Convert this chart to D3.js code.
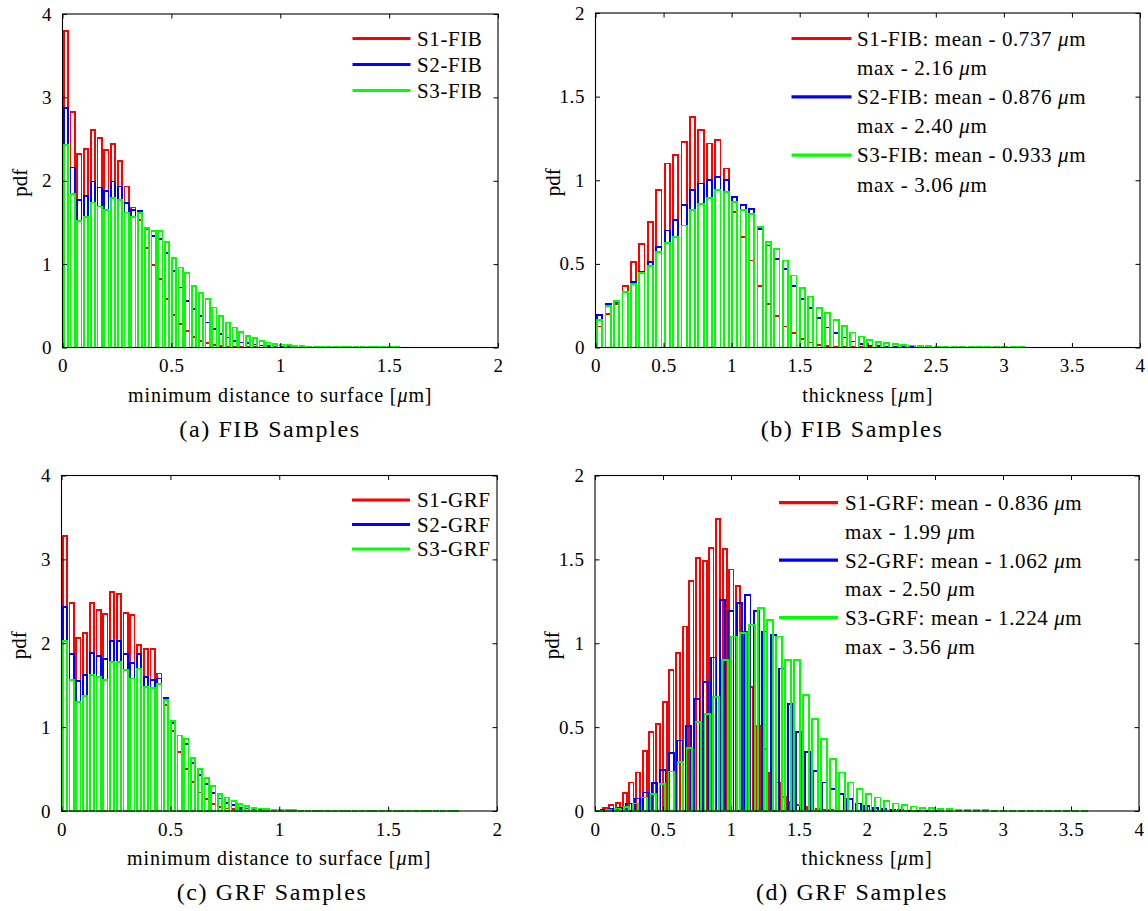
<!DOCTYPE html>
<html><head><meta charset="utf-8">
<script src="https://cdn.jsdelivr.net/npm/d3@7"></script>
<style>
body{margin:0;background:#fff}
svg{display:block}
text{font-family:"Liberation Serif","Times New Roman",serif;fill:#000}
</style>
</head><body>
<svg id="chart" width="1148" height="911"></svg>
<script>
// ---------------- data ----------------
// (a) FIB minimum distance to surface, bins of 0.031 from 0
const aBin = [0, 0.031];
const aS1 = [3.80,2.82,2.32,2.38,2.61,2.51,2.37,2.44,2.24,1.93,1.68,1.53,1.19,0.99,0.82,0.58,0.39,0.28,0.20,0.13,0.08,0.05,0.03,0.02,0.012,0.008,0.005,0.003,0.002,0.001];
const aS2 = [2.87,2.16,1.77,1.82,1.99,1.92,1.88,1.99,1.93,1.73,1.65,1.64,1.42,1.34,1.30,1.13,0.92,0.72,0.56,0.46,0.38,0.30,0.22,0.16,0.12,0.08,0.06,0.05,0.035,0.025,0.018,0.012,0.008,0.005,0.003,0.002,0.001];
const aS3 = [2.43,1.84,1.52,1.57,1.74,1.69,1.65,1.79,1.77,1.62,1.57,1.61,1.43,1.40,1.40,1.27,1.07,0.96,0.89,0.74,0.65,0.58,0.48,0.38,0.30,0.24,0.19,0.14,0.11,0.08,0.06,0.045,0.035,0.027,0.02,0.016,0.013,0.011,0.009,0.008,0.007,0.006,0.005,0.004,0.004,0.003,0.003,0.002,0.002,0.002,0.001];
// (b) FIB thickness, bins of 0.062 from 0
const bBin = [0, 0.062];
const bS1 = [0.126,0.20,0.26,0.37,0.51,0.62,0.75,0.94,1.10,1.15,1.23,1.38,1.30,1.22,1.24,1.07,0.81,0.66,0.52,0.37,0.26,0.19,0.126,0.085,0.05,0.03,0.016,0.01,0.006,0.004,0.003,0.002,0.001,0.001,0.001];
const bS2 = [0.194,0.26,0.274,0.33,0.39,0.45,0.51,0.60,0.70,0.76,0.85,0.94,0.98,1.00,1.02,1.00,0.90,0.85,0.83,0.71,0.61,0.53,0.47,0.37,0.29,0.235,0.175,0.12,0.085,0.06,0.036,0.02,0.012,0.008,0.005,0.003,0.002,0.001,0.001];
const bS3 = [0.164,0.248,0.28,0.334,0.38,0.445,0.487,0.573,0.627,0.66,0.73,0.82,0.86,0.895,0.94,0.93,0.87,0.82,0.80,0.72,0.63,0.59,0.52,0.43,0.355,0.305,0.235,0.205,0.165,0.13,0.09,0.066,0.045,0.035,0.025,0.02,0.015,0.012,0.01,0.008,0.006,0.005,0.004,0.003,0.002,0.002,0.001,0.001,0.001,0.001,0.001];
// (c) GRF minimum distance to surface, bins of 0.031 from 0
const cBin = [0, 0.031];
const cS1 = [3.28,2.48,2.06,2.12,2.48,2.40,2.35,2.61,2.59,2.36,2.34,1.98,1.93,1.93,1.64,1.26,0.95,0.70,0.50,0.35,0.22,0.14,0.08,0.05,0.03,0.02,0.01,0.005,0.002];
const cS2 = [2.43,1.87,1.55,1.62,1.88,1.85,1.81,2.03,2.03,1.87,1.76,1.87,1.60,1.56,1.58,1.35,1.05,0.90,0.80,0.57,0.43,0.32,0.21,0.15,0.10,0.07,0.04,0.03,0.02,0.01,0.006,0.003,0.002,0.001];
const cS3 = [2.03,1.56,1.30,1.37,1.62,1.60,1.56,1.78,1.78,1.68,1.58,1.70,1.48,1.47,1.51,1.32,1.07,0.90,0.86,0.63,0.50,0.39,0.30,0.20,0.16,0.12,0.08,0.06,0.04,0.03,0.02,0.015,0.012,0.01,0.008,0.006,0.005,0.004,0.003,0.003,0.002,0.002,0.002,0.001,0.001,0.001,0.001,0.001,0.001,0.001,0.001,0.001,0.001,0.001,0.001,0.001,0.001,0.001,0.001];
// (d) GRF thickness
const dBin1 = [0.047, 0.049];
const dBin2 = [0.03, 0.0625];
const dBin3 = [0, 0.066];
const dS1 = [0.016,0.036,0.05,0.105,0.17,0.23,0.36,0.47,0.52,0.65,0.84,0.94,1.10,1.37,1.51,1.49,1.57,1.74,1.56,1.44,1.34,1.07,0.74,0.51,0.37,0.23,0.17,0.085,0.055,0.035,0.025,0.015,0.01,0.006,0.004,0.003,0.002,0.001,0.001];
const dS2 = [0.005,0.01,0.02,0.045,0.075,0.11,0.165,0.245,0.345,0.42,0.505,0.67,0.77,0.915,1.26,1.19,1.24,1.29,1.19,1.07,1.05,0.85,0.64,0.47,0.35,0.24,0.17,0.13,0.10,0.07,0.045,0.03,0.02,0.012,0.008,0.005,0.003,0.002,0.001,0.001];
const dS3 = [0.003,0.008,0.015,0.025,0.045,0.08,0.10,0.16,0.235,0.29,0.375,0.53,0.58,0.68,0.90,1.04,1.06,1.11,1.21,1.14,1.04,0.90,0.90,0.69,0.55,0.43,0.31,0.23,0.17,0.13,0.10,0.08,0.06,0.045,0.035,0.027,0.02,0.016,0.012,0.01,0.008,0.006,0.005,0.004,0.003,0.003,0.002,0.002,0.002,0.001,0.001,0.001,0.001,0.001,0.001];

const xTicksDist = [0, 0.5, 1, 1.5, 2];
const xTicksThick = [0, 0.5, 1, 1.5, 2, 2.5, 3, 3.5, 4];
const yTicksDist = [0, 1, 2, 3, 4];
const yTicksThick = [0, 0.5, 1, 1.5, 2];

const legA = ["S1-FIB", "S2-FIB", "S3-FIB"];
const legC = ["S1-GRF", "S2-GRF", "S3-GRF"];
const legB = [["S1-FIB: mean - 0.737 ", "max - 2.16 "], ["S2-FIB: mean - 0.876 ", "max - 2.40 "], ["S3-FIB: mean - 0.933 ", "max - 3.06 "]];
const legD = [["S1-GRF: mean - 0.836 ", "max - 1.99 "], ["S2-GRF: mean - 1.062 ", "max - 2.50 "], ["S3-GRF: mean - 1.224 ", "max - 3.56 "]];
const colors = ["#ff0000", "#0000ff", "#00ff00"];

// ---------------- drawing ----------------
const svg = d3.select("#chart");

function addMu(sel, prefix, suffix) {
  sel.append("tspan").text(prefix);
  sel.append("tspan").attr("font-style", "italic").text("\u03bc");
  sel.append("tspan").text("m" + (suffix || ""));
}

function panel(cfg) {
  const x = d3.scaleLinear().domain(cfg.xd).range([cfg.l, cfg.r]);
  const y = d3.scaleLinear().domain(cfg.yd).range([cfg.b, cfg.t]);
  const g = svg.append("g");

  // bars: outline only, drawn S1, S2, S3 in order
  const frac = 0.62;
  cfg.series.forEach((s, k) => {
    const [start, w] = s.bin;
    g.append("g").attr("shape-rendering", "crispEdges")
      .selectAll("rect").data(s.vals).join("rect")
      .attr("x", (v, i) => x(start + (i + (1 - frac) / 2) * w))
      .attr("width", x(frac * w) - x(0))
      .attr("y", v => y(v))
      .attr("height", v => y(0) - y(v))
      .attr("fill", "none")
      .attr("stroke", colors[k])
      .attr("stroke-width", 1.8);
  });

  if (cfg.cover) {
    g.append("rect").attr("x", cfg.cover[0]).attr("y", cfg.cover[1])
      .attr("width", cfg.cover[2]).attr("height", cfg.cover[3]).attr("fill", "#fff");
  }

  // frame
  g.append("rect").attr("x", cfg.l).attr("y", cfg.t).attr("width", cfg.r - cfg.l).attr("height", cfg.b - cfg.t)
    .attr("fill", "none").attr("stroke", "#000").attr("stroke-width", 1.1);

  const tl = 4.5;
  const fmt = d => String(d);
  const ax = g.append("g").attr("transform", `translate(0,${cfg.b})`)
    .call(d3.axisBottom(x).tickValues(cfg.xt).tickFormat(fmt).tickSizeInner(-tl).tickSizeOuter(0).tickPadding(tl + 7));
  const axT = g.append("g").attr("transform", `translate(0,${cfg.t})`)
    .call(d3.axisTop(x).tickValues(cfg.xt).tickFormat("").tickSizeInner(-tl).tickSizeOuter(0));
  const ay = g.append("g").attr("transform", `translate(${cfg.l},0)`)
    .call(d3.axisLeft(y).tickValues(cfg.yt).tickFormat(fmt).tickSizeInner(-tl).tickSizeOuter(0).tickPadding(tl + 6));
  const ayR = g.append("g").attr("transform", `translate(${cfg.r},0)`)
    .call(d3.axisRight(y).tickValues(cfg.yt).tickFormat("").tickSizeInner(-tl).tickSizeOuter(0));
  [ax, axT, ay, ayR].forEach(a => {
    a.select(".domain").remove();
    a.attr("font-family", null);
    a.selectAll("line").attr("stroke", "#000").attr("stroke-width", 1);
    a.selectAll("text").attr("font-size", 19).attr("letter-spacing", 0.6).attr("fill", "#000");
  });

  // axis labels
  g.append("text").attr("x", (cfg.l + cfg.r) / 2).attr("y", cfg.b + 54).attr("text-anchor", "middle")
    .attr("font-size", 20).attr("letter-spacing", 0.9).call(s => addMu(s, cfg.xlabel, "]"));
  g.append("text").attr("transform", `translate(${cfg.l - 36},${(cfg.t + cfg.b) / 2 + 2}) rotate(-90)`)
    .attr("text-anchor", "middle").attr("font-size", 21).text("pdf");
  g.append("text").attr("x", cfg.capX).attr("y", cfg.b + 89).attr("text-anchor", "middle")
    .attr("font-size", 24).attr("letter-spacing", 1.6).text(cfg.caption);

  // legend
  const L = cfg.leg;
  L.items.forEach((it, k) => {
    const yy = L.y0 + k * L.dy;
    g.append("line").attr("x1", L.x1).attr("x2", L.x2).attr("y1", yy).attr("y2", yy)
      .attr("stroke", colors[k]).attr("stroke-width", 3.2);
    const t = (yv) => g.append("text").attr("x", L.tx).attr("y", yv).attr("dy", "0.35em")
      .attr("font-size", 21).attr("letter-spacing", 0.6);
    if (Array.isArray(it)) {
      t(yy).call(s => addMu(s, it[0]));
      t(yy + L.dy / 2).call(s => addMu(s, it[1]));
    } else {
      t(yy).text(it);
    }
  });
}

panel({l: 62.5, r: 498, t: 14, b: 347.5, xd: [0, 2], yd: [0, 4], xt: xTicksDist, yt: yTicksDist,
  series: [{bin: aBin, vals: aS1}, {bin: aBin, vals: aS2}, {bin: aBin, vals: aS3}],
  xlabel: "minimum distance to surface [", caption: "(a) FIB Samples", capX: 270,
  leg: {items: legA, x1: 352.5, x2: 410.5, tx: 417, y0: 38.5, dy: 26}});

panel({l: 595.5, r: 1140, t: 13, b: 347.5, xd: [0, 4], yd: [0, 2], xt: xTicksThick, yt: yTicksThick,
  series: [{bin: bBin, vals: bS1}, {bin: bBin, vals: bS2}, {bin: bBin, vals: bS3}],
  xlabel: "thickness [", caption: "(b) FIB Samples", capX: 852,
  leg: {items: legB, x1: 791.5, x2: 851.5, tx: 857, y0: 38.5, dy: 58.3}});

panel({l: 61.5, r: 497, t: 475.5, b: 811, xd: [0, 2], yd: [0, 4], xt: xTicksDist, yt: yTicksDist,
  series: [{bin: cBin, vals: cS1}, {bin: cBin, vals: cS2}, {bin: cBin, vals: cS3}],
  xlabel: "minimum distance to surface [", caption: "(c) GRF Samples", capX: 272,
  leg: {items: legC, x1: 352, x2: 410, tx: 417, y0: 500, dy: 24.5}});

panel({l: 595, r: 1139, t: 475.5, b: 811, xd: [0, 4], yd: [0, 2], xt: xTicksThick, yt: yTicksThick,
  series: [{bin: dBin1, vals: dS1}, {bin: dBin2, vals: dS2}, {bin: dBin3, vals: dS3}],
  xlabel: "thickness [", caption: "(d) GRF Samples", capX: 852,
  cover: [785, 486, 320, 173],
  leg: {items: legD, x1: 779, x2: 838, tx: 845, y0: 502.7, dy: 57.5}});
</script>
</body></html>
